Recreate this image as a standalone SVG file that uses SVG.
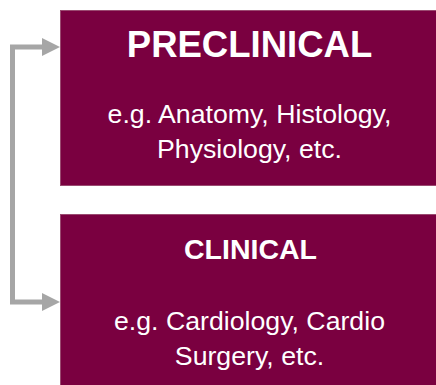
<svg xmlns="http://www.w3.org/2000/svg" width="436" height="385" viewBox="0 0 436 385">
<style>
.box{fill:#7A0040;stroke:#9A4A70;stroke-width:1}
.title{font-family:"Liberation Sans",Arial,sans-serif;font-weight:bold;fill:#FFFFFF;text-anchor:middle}
.body{font-family:"Liberation Sans",Arial,sans-serif;font-size:26.7px;fill:#FFFFFF;text-anchor:middle}
.conn{fill:none;stroke:#A6A6A6;stroke-width:5}
.head{fill:#A6A6A6}
</style>
<rect width="436" height="385" fill="#FFFFFF"/>
<g id="connectors">
<polyline class="conn" points="44,47 12.5,47 12.5,302 44,302"/>
<polygon class="head" points="42,38 60,47 42,56"/>
<polygon class="head" points="42,293 60,302 42,311"/>
</g>
<g id="preclinical">
<rect class="box" x="60.5" y="10.5" width="380" height="175"/>
<text class="title" x="249.5" y="57" font-size="36.5">PRECLINICAL</text>
<text class="body" x="249.5" y="123">e.g. Anatomy, Histology,</text>
<text class="body" x="249.5" y="158">Physiology, etc.</text>
</g>
<g id="clinical">
<rect class="box" x="60.5" y="214.5" width="380" height="180"/>
<text class="title" x="250.5" y="259" font-size="28.5">CLINICAL</text>
<text class="body" x="249.5" y="329.5">e.g. Cardiology, Cardio</text>
<text class="body" x="249.5" y="365">Surgery, etc.</text>
</g>
</svg>
